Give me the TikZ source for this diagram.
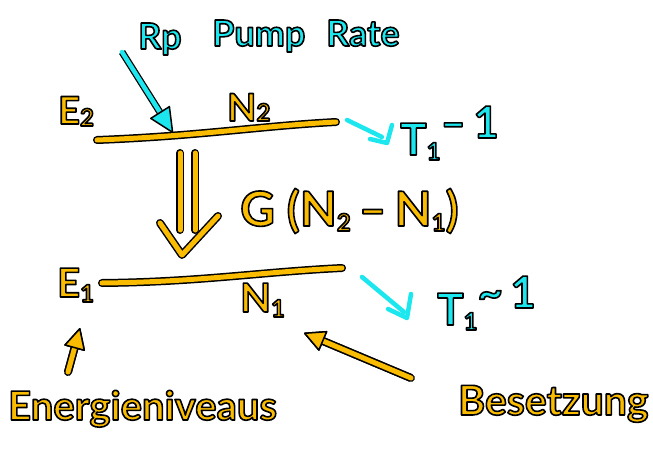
\documentclass[tikz,border=0pt]{standalone}
\usepackage{fontspec}
\setmainfont{Lato}
\usetikzlibrary{arrows.meta}
\definecolor{gold}{HTML}{F9BC00}
\definecolor{aqua}{HTML}{1CE6EE}
\newcommand\olt[1]{\special{pdf:literal direct 0 G 1.6 w 1 j 2 Tr}#1\special{pdf:literal direct 0 Tr}}
\newcommand\lo[2][-5pt]{\raisebox{#1}{\fontsize{24}{24}\selectfont #2}}
\begin{document}
\begin{tikzpicture}[x=1pt,y=-1pt,
  gl/.style={line width=5pt, draw=gold, line cap=round, line join=round,
    preaction={draw=black, line width=8pt, line cap=round, line join=round}},
  cl/.style={line width=4.5pt, draw=aqua, line cap=round, line join=round},
  txt/.style={inner sep=0pt, anchor=base west, font=\bfseries\fontsize{#1}{#1}\selectfont},
  ghead/.style={-{Triangle[length=22pt,width=22pt,fill=gold,color=black,line width=1.5pt,round]}},
  chead/.style={-{Triangle[length=26pt,width=24pt,fill=aqua,color=black,line width=1.5pt,round]}},
]
\useasboundingbox (0,0) rectangle (653,452);

% labels
\node[txt=36, text=aqua] (rp) at (138,49) {\olt{Rp}};
\node[txt=36, text=aqua] (pump) at (212,46) {\olt{Pump}};
\node[txt=36, text=aqua] (rate) at (326,46) {\olt{Rate}};
\node[txt=38, text=gold] (e2) at (58,124) {\olt{E\lo[-2pt]{2}}};
\node[txt=38, text=gold] (n2) at (227,121) {\olt{N\lo[0pt]{2}}};
\node[txt=44, text=aqua] (t2) at (400,155) {\olt{T\lo{1}\raisebox{17pt}{–\,1}}};
\node[txt=48, text=gold] (g) at (240,226) {\olt{G (N\lo{2}\,–\,N\lo{1})}};
\node[txt=40, text=gold] (e1) at (57,297) {\olt{E\lo{1}}};
\node[txt=40, text=gold] (n1) at (240,312) {\olt{N\lo{1}}};
\node[txt=44, text=aqua] (t1) at (437,325) {\olt{T\lo{1}\raisebox{17pt}{\char`\~\,1}}};
\node[txt=40, text=gold] (en) at (8,420) {\olt{Energieniveaus}};
\node[txt=41, text=gold] (bes) at (458,415) {\olt{Besetzung}};

% energy levels
\coordinate (l2a) at (97,140);
\coordinate (l2b) at (336,122);
\coordinate (l1a) at (102,283);
\coordinate (l1b) at (342,268);
\draw[gl] (l2a) .. controls (200,136) and (260,126) .. (l2b);
\draw[gl] (l1a) .. controls (200,282) and (260,272) .. (l1b);

% pump arrow
\coordinate (pa) at (122,52);
\coordinate (pb) at (173,133);
\draw[cl, chead, preaction={draw=black,line width=7pt,-,shorten >=18pt}] (pa) -- (pb);

% stimulated transition double arrow
\coordinate (d1a) at (180,153); \coordinate (d1b) at (180,230);
\coordinate (d2a) at (195,153); \coordinate (d2b) at (195,230);
\coordinate (va) at (160,223); \coordinate (vb) at (182,255); \coordinate (vc) at (218,216);
\draw[gl] (d1a) -- (d1b);
\draw[gl] (d2a) -- (d2b);
\draw[gl] (va) -- (vb) -- (vc);

% decay arrows
\coordinate (h2a) at (347,120); \coordinate (h2b) at (382,137);
\coordinate (h2c) at (370,139); \coordinate (h2d) at (387,143); \coordinate (h2e) at (392,125);
\draw[cl] (h2a) -- (h2b);
\draw[cl] (h2c) -- (h2d) -- (h2e);
\coordinate (h1a) at (362,277); \coordinate (h1b) at (404,312);
\coordinate (h1c) at (388,309); \coordinate (h1d) at (407,318); \coordinate (h1e) at (411,294);
\draw[cl] (h1a) -- (h1b);
\draw[cl] (h1c) -- (h1d) -- (h1e);

% pointer arrows
\coordinate (ea) at (68,372); \coordinate (eb) at (80,328);
\draw[gl, ghead, preaction={draw=black,line width=8pt,-,shorten >=14pt}] (ea) -- (eb);
\coordinate (ba) at (411,378); \coordinate (bb) at (304,333);
\draw[gl, ghead, preaction={draw=black,line width=8pt,-,shorten >=14pt}] (ba) -- (bb);
\end{tikzpicture}
\end{document}
